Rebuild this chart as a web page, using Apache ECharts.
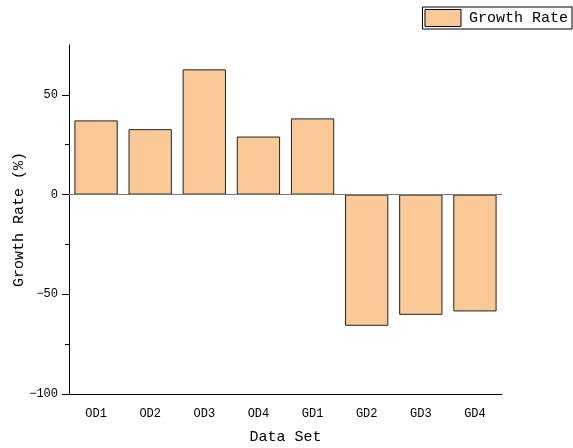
<!DOCTYPE html>
<html>
<head>
<meta charset="utf-8">
<script src="https://cdn.jsdelivr.net/npm/echarts@6/dist/echarts.min.js"></script>
<style>
  html, body { margin: 0; padding: 0; background: #fff; }
  #chart { width: 573px; height: 448px; }
</style>
</head>
<body>
<div id="chart"></div>
<script>
// Growth rate per data set
const categories = ['OD1', 'OD2', 'OD3', 'OD4', 'GD1', 'GD2', 'GD3', 'GD4'];
const growthRate = [37.2, 32.8, 62.8, 29.1, 38.2, -65.8, -60.3, -58.6];
const seriesName = 'Growth Rate';
const majorTicks = [-100, -50, 0, 50];
const minorTicks = [-75, -25, 25];

const FONT = '"Liberation Mono", "DejaVu Sans Mono", monospace';
const chart = echarts.init(document.getElementById('chart'));

chart.setOption({
  animation: false,
  textStyle: { fontFamily: FONT, color: '#000' },
  legend: {
    data: [seriesName],
    icon: 'rect',
    right: 1,
    top: 7,
    itemWidth: 36,
    itemHeight: 17,
    itemGap: 6,
    itemStyle: { borderColor: '#000', borderWidth: 1 },
    padding: [2, 4, 2, 2],
    borderColor: '#000',
    borderWidth: 1,
    borderRadius: 0,
    textStyle: { fontFamily: FONT, fontSize: 15, color: '#000', padding: [0, 0, 0, 3] }
  },
  grid: { left: 69, right: 71, top: 45, bottom: 54, containLabel: false, outerBoundsMode: 'none' },
  xAxis: [
    {
      type: 'category',
      data: categories,
      name: 'Data Set',
      nameLocation: 'middle',
      nameGap: 36,
      nameTextStyle: { fontFamily: FONT, fontSize: 15, color: '#000' },
      axisLine: { onZero: false, lineStyle: { color: '#000', width: 1 } },
      axisTick: { alignWithLabel: true, length: 5, lineStyle: { color: '#000' } },
      axisLabel: { fontFamily: FONT, fontSize: 12, color: '#000', margin: 14 },
      splitLine: { show: false }
    },
    {
      // boundary ticks between categories
      type: 'category',
      data: categories,
      position: 'bottom',
      axisLine: { show: false },
      axisTick: { length: 3, lineStyle: { color: '#000' } },
      axisLabel: { show: false },
      splitLine: { show: false }
    }
  ],
  yAxis: [
    {
      type: 'value',
      min: -100,
      max: 75,
      name: 'Growth Rate (%)',
      nameLocation: 'middle',
      nameGap: 42,
      nameMoveOverlap: false,
      nameTextStyle: { fontFamily: FONT, fontSize: 15, color: '#000' },
      axisLine: { show: true, lineStyle: { color: '#000', width: 1 } },
      axisTick: { show: true, length: 7, customValues: majorTicks, lineStyle: { color: '#000' } },
      axisLabel: {
        fontFamily: FONT, fontSize: 12, color: '#000', margin: 11,
        customValues: majorTicks,
        formatter: v => String(v).replace('-', '\u2212')
      },
      splitLine: { show: false }
    },
    {
      // minor ticks halfway between labelled values
      type: 'value',
      min: -100,
      max: 75,
      position: 'left',
      axisLine: { show: false },
      axisTick: { show: true, length: 4, customValues: minorTicks, lineStyle: { color: '#000' } },
      axisLabel: { show: false },
      splitLine: { show: false }
    }
  ],
  series: [{
    name: seriesName,
    type: 'bar',
    data: growthRate,
    barWidth: '80%',
    itemStyle: { color: '#FBC998', borderColor: '#222', borderWidth: 1 },
    markLine: {
      silent: true,
      symbol: 'none',
      label: { show: false },
      lineStyle: { color: '#777', type: 'solid', width: 1 },
      data: [{ yAxis: 0 }]
    }
  }]
});
</script>
</body>
</html>
